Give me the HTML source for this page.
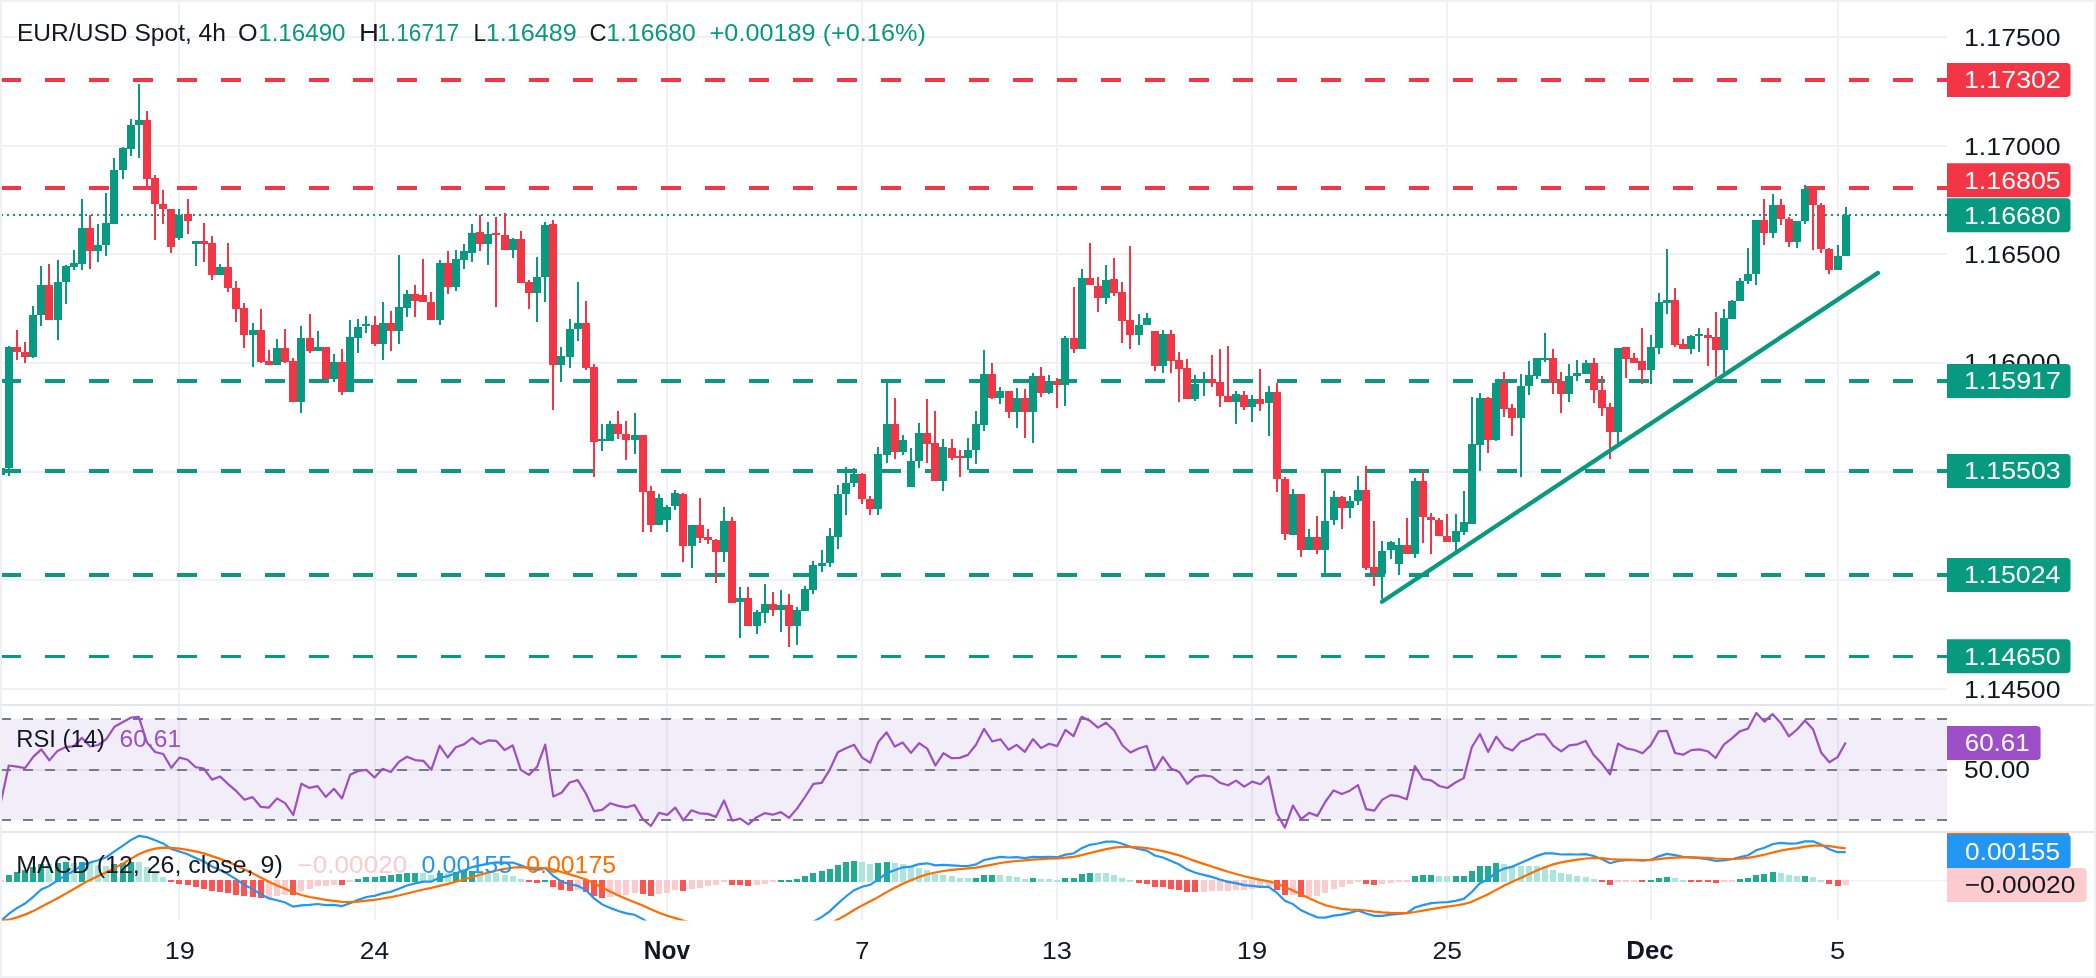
<!DOCTYPE html>
<html><head><meta charset="utf-8"><style>html,body{margin:0;padding:0;background:#fff;}svg{display:block} body>svg{will-change:transform}</style></head>
<body><svg width="2096" height="978" viewBox="0 0 2096 978" shape-rendering="crispEdges">
<rect x="0" y="0" width="2096" height="978" fill="#fff"/>
<rect x="2" y="36.0" width="1945" height="2" fill="#F0F1F2"/>
<rect x="2" y="144.7" width="1945" height="2" fill="#F0F1F2"/>
<rect x="2" y="253.3" width="1945" height="2" fill="#F0F1F2"/>
<rect x="2" y="362.0" width="1945" height="2" fill="#F0F1F2"/>
<rect x="2" y="470.7" width="1945" height="2" fill="#F0F1F2"/>
<rect x="2" y="579.3" width="1945" height="2" fill="#F0F1F2"/>
<rect x="2" y="688.0" width="1945" height="2" fill="#F0F1F2"/>
<rect x="178" y="2" width="2" height="918" fill="#F0F1F2"/>
<rect x="374" y="2" width="2" height="918" fill="#F0F1F2"/>
<rect x="666" y="2" width="2" height="918" fill="#F0F1F2"/>
<rect x="861" y="2" width="2" height="918" fill="#F0F1F2"/>
<rect x="1056" y="2" width="2" height="918" fill="#F0F1F2"/>
<rect x="1251" y="2" width="2" height="918" fill="#F0F1F2"/>
<rect x="1446" y="2" width="2" height="918" fill="#F0F1F2"/>
<rect x="1650" y="2" width="2" height="918" fill="#F0F1F2"/>
<rect x="1837" y="2" width="2" height="918" fill="#F0F1F2"/>
<rect x="0" y="704" width="2096" height="2" fill="#E4E6EB"/>
<rect x="0" y="831" width="2096" height="2" fill="#E4E6EB"/>
<line x1="1" y1="80.03200000000203" x2="1947" y2="80.03200000000203" stroke="#F23645" stroke-width="3.5" stroke-dasharray="20 24"/>
<line x1="1" y1="188.04666666666694" x2="1947" y2="188.04666666666694" stroke="#F23645" stroke-width="3.5" stroke-dasharray="20 24"/>
<line x1="1" y1="381.03866666666687" x2="1947" y2="381.03866666666687" stroke="#089981" stroke-width="3.5" stroke-dasharray="20 24"/>
<line x1="1" y1="471.01466666666767" x2="1947" y2="471.01466666666767" stroke="#089981" stroke-width="3.5" stroke-dasharray="20 24"/>
<line x1="1" y1="575.1173333333358" x2="1947" y2="575.1173333333358" stroke="#089981" stroke-width="3.5" stroke-dasharray="20 24"/>
<line x1="1" y1="656.3999999999993" x2="1947" y2="656.3999999999993" stroke="#089981" stroke-width="3.5" stroke-dasharray="20 24"/>
<line x1="1" y1="215.2" x2="1947" y2="215.2" stroke="#089981" stroke-width="2" stroke-dasharray="2 4"/>
<rect x="0" y="442.0" width="2" height="38.6" fill="#089981"/>
<rect x="-3" y="467.5" width="8" height="7.3" fill="#089981"/>
<rect x="8" y="345.6" width="2" height="130.4" fill="#089981"/>
<rect x="5" y="347.0" width="8" height="121.0" fill="#089981"/>
<rect x="16" y="330.0" width="2" height="30.0" fill="#F23645"/>
<rect x="13" y="347.0" width="8" height="4.5" fill="#F23645"/>
<rect x="24" y="342.0" width="2" height="20.5" fill="#F23645"/>
<rect x="21" y="351.5" width="8" height="5.1" fill="#F23645"/>
<rect x="32" y="306.0" width="2" height="52.0" fill="#089981"/>
<rect x="29" y="315.0" width="8" height="41.6" fill="#089981"/>
<rect x="40" y="266.0" width="2" height="60.0" fill="#089981"/>
<rect x="37" y="285.0" width="8" height="30.0" fill="#089981"/>
<rect x="48" y="264.0" width="2" height="56.0" fill="#F23645"/>
<rect x="45" y="285.0" width="8" height="34.5" fill="#F23645"/>
<rect x="57" y="260.0" width="2" height="80.0" fill="#089981"/>
<rect x="54" y="282.0" width="8" height="37.5" fill="#089981"/>
<rect x="65" y="265.0" width="2" height="38.6" fill="#089981"/>
<rect x="62" y="266.0" width="8" height="16.0" fill="#089981"/>
<rect x="73" y="249.7" width="2" height="19.9" fill="#089981"/>
<rect x="70" y="263.0" width="8" height="3.5" fill="#089981"/>
<rect x="81" y="199.0" width="2" height="70.8" fill="#089981"/>
<rect x="78" y="227.6" width="8" height="36.4" fill="#089981"/>
<rect x="89" y="215.0" width="2" height="53.5" fill="#F23645"/>
<rect x="86" y="227.6" width="8" height="23.2" fill="#F23645"/>
<rect x="97" y="224.0" width="2" height="37.6" fill="#089981"/>
<rect x="94" y="245.0" width="8" height="5.8" fill="#089981"/>
<rect x="105" y="193.0" width="2" height="62.5" fill="#089981"/>
<rect x="102" y="223.0" width="8" height="22.0" fill="#089981"/>
<rect x="113" y="158.0" width="2" height="65.6" fill="#089981"/>
<rect x="110" y="170.0" width="8" height="53.6" fill="#089981"/>
<rect x="122" y="147.0" width="2" height="31.8" fill="#089981"/>
<rect x="119" y="148.0" width="8" height="22.0" fill="#089981"/>
<rect x="130" y="119.0" width="2" height="36.7" fill="#089981"/>
<rect x="127" y="125.0" width="8" height="23.7" fill="#089981"/>
<rect x="138" y="84.0" width="2" height="73.7" fill="#089981"/>
<rect x="135" y="120.3" width="8" height="5.1" fill="#089981"/>
<rect x="146" y="111.0" width="2" height="75.3" fill="#F23645"/>
<rect x="143" y="120.3" width="8" height="58.3" fill="#F23645"/>
<rect x="154" y="175.0" width="2" height="64.5" fill="#F23645"/>
<rect x="151" y="178.0" width="8" height="25.7" fill="#F23645"/>
<rect x="162" y="190.0" width="2" height="33.6" fill="#F23645"/>
<rect x="159" y="203.7" width="8" height="5.3" fill="#F23645"/>
<rect x="170" y="208.8" width="2" height="44.0" fill="#F23645"/>
<rect x="167" y="209.0" width="8" height="38.0" fill="#F23645"/>
<rect x="178" y="208.8" width="2" height="31.2" fill="#089981"/>
<rect x="175" y="214.6" width="8" height="22.9" fill="#089981"/>
<rect x="187" y="198.6" width="2" height="35.8" fill="#F23645"/>
<rect x="184" y="214.0" width="8" height="6.7" fill="#F23645"/>
<rect x="195" y="240.5" width="2" height="25.1" fill="#089981"/>
<rect x="192" y="240.5" width="8" height="3.9" fill="#089981"/>
<rect x="203" y="222.9" width="2" height="38.9" fill="#F23645"/>
<rect x="200" y="240.5" width="8" height="3.4" fill="#F23645"/>
<rect x="211" y="235.7" width="2" height="43.9" fill="#F23645"/>
<rect x="208" y="243.1" width="8" height="31.4" fill="#F23645"/>
<rect x="219" y="263.8" width="2" height="10.7" fill="#089981"/>
<rect x="216" y="266.9" width="8" height="7.6" fill="#089981"/>
<rect x="227" y="242.6" width="2" height="49.0" fill="#F23645"/>
<rect x="224" y="266.9" width="8" height="20.9" fill="#F23645"/>
<rect x="235" y="280.9" width="2" height="40.9" fill="#F23645"/>
<rect x="232" y="287.8" width="8" height="20.7" fill="#F23645"/>
<rect x="243" y="303.1" width="2" height="44.8" fill="#F23645"/>
<rect x="240" y="307.7" width="8" height="27.6" fill="#F23645"/>
<rect x="252" y="323.0" width="2" height="44.3" fill="#089981"/>
<rect x="249" y="330.2" width="8" height="5.1" fill="#089981"/>
<rect x="260" y="309.0" width="2" height="53.7" fill="#F23645"/>
<rect x="257" y="330.2" width="8" height="31.7" fill="#F23645"/>
<rect x="268" y="349.9" width="2" height="14.6" fill="#F23645"/>
<rect x="265" y="361.4" width="8" height="3.1" fill="#F23645"/>
<rect x="276" y="338.9" width="2" height="25.6" fill="#089981"/>
<rect x="273" y="347.9" width="8" height="16.6" fill="#089981"/>
<rect x="284" y="328.7" width="2" height="34.7" fill="#F23645"/>
<rect x="281" y="347.9" width="8" height="14.0" fill="#F23645"/>
<rect x="292" y="358.0" width="2" height="43.5" fill="#F23645"/>
<rect x="289" y="360.9" width="8" height="40.6" fill="#F23645"/>
<rect x="300" y="326.1" width="2" height="86.4" fill="#089981"/>
<rect x="297" y="337.9" width="8" height="63.6" fill="#089981"/>
<rect x="309" y="313.6" width="2" height="38.9" fill="#F23645"/>
<rect x="306" y="337.9" width="8" height="12.8" fill="#F23645"/>
<rect x="317" y="330.7" width="2" height="20.0" fill="#089981"/>
<rect x="314" y="346.8" width="8" height="3.9" fill="#089981"/>
<rect x="325" y="346.8" width="2" height="32.0" fill="#F23645"/>
<rect x="322" y="346.8" width="8" height="32.0" fill="#F23645"/>
<rect x="333" y="353.7" width="2" height="28.7" fill="#089981"/>
<rect x="330" y="361.9" width="8" height="16.9" fill="#089981"/>
<rect x="341" y="348.6" width="2" height="46.0" fill="#F23645"/>
<rect x="338" y="361.9" width="8" height="29.6" fill="#F23645"/>
<rect x="349" y="320.0" width="2" height="71.5" fill="#089981"/>
<rect x="346" y="337.1" width="8" height="54.4" fill="#089981"/>
<rect x="357" y="319.2" width="2" height="33.3" fill="#089981"/>
<rect x="354" y="326.9" width="8" height="11.0" fill="#089981"/>
<rect x="365" y="315.9" width="2" height="16.9" fill="#089981"/>
<rect x="362" y="324.4" width="8" height="2.0" fill="#089981"/>
<rect x="374" y="315.9" width="2" height="30.1" fill="#F23645"/>
<rect x="371" y="325.1" width="8" height="18.4" fill="#F23645"/>
<rect x="382" y="302.1" width="2" height="58.0" fill="#089981"/>
<rect x="379" y="323.1" width="8" height="20.4" fill="#089981"/>
<rect x="390" y="310.8" width="2" height="39.9" fill="#F23645"/>
<rect x="387" y="323.1" width="8" height="7.6" fill="#F23645"/>
<rect x="398" y="255.4" width="2" height="88.1" fill="#089981"/>
<rect x="395" y="307.0" width="8" height="23.7" fill="#089981"/>
<rect x="406" y="290.2" width="2" height="26.3" fill="#089981"/>
<rect x="403" y="294.2" width="8" height="13.3" fill="#089981"/>
<rect x="414" y="285.0" width="2" height="31.5" fill="#F23645"/>
<rect x="411" y="294.2" width="8" height="6.9" fill="#F23645"/>
<rect x="422" y="259.0" width="2" height="43.4" fill="#F23645"/>
<rect x="419" y="294.7" width="8" height="7.7" fill="#F23645"/>
<rect x="430" y="292.2" width="2" height="27.3" fill="#F23645"/>
<rect x="427" y="301.9" width="8" height="17.6" fill="#F23645"/>
<rect x="439" y="260.3" width="2" height="64.3" fill="#089981"/>
<rect x="436" y="262.8" width="8" height="56.7" fill="#089981"/>
<rect x="447" y="251.3" width="2" height="42.2" fill="#F23645"/>
<rect x="444" y="262.8" width="8" height="23.8" fill="#F23645"/>
<rect x="455" y="250.0" width="2" height="41.4" fill="#089981"/>
<rect x="452" y="259.0" width="8" height="27.6" fill="#089981"/>
<rect x="463" y="244.2" width="2" height="24.5" fill="#089981"/>
<rect x="460" y="251.3" width="8" height="9.0" fill="#089981"/>
<rect x="471" y="223.7" width="2" height="37.8" fill="#089981"/>
<rect x="468" y="232.9" width="8" height="19.7" fill="#089981"/>
<rect x="479" y="215.0" width="2" height="36.3" fill="#F23645"/>
<rect x="476" y="232.2" width="8" height="11.5" fill="#F23645"/>
<rect x="487" y="221.9" width="2" height="42.7" fill="#089981"/>
<rect x="484" y="234.0" width="8" height="9.7" fill="#089981"/>
<rect x="495" y="216.8" width="2" height="90.0" fill="#F23645"/>
<rect x="492" y="233.4" width="8" height="2.0" fill="#F23645"/>
<rect x="504" y="213.0" width="2" height="36.5" fill="#F23645"/>
<rect x="501" y="234.7" width="8" height="14.8" fill="#F23645"/>
<rect x="512" y="238.0" width="2" height="19.7" fill="#089981"/>
<rect x="509" y="239.0" width="8" height="10.5" fill="#089981"/>
<rect x="520" y="230.9" width="2" height="51.6" fill="#F23645"/>
<rect x="517" y="239.0" width="8" height="43.5" fill="#F23645"/>
<rect x="528" y="280.0" width="2" height="28.8" fill="#F23645"/>
<rect x="525" y="282.0" width="8" height="10.7" fill="#F23645"/>
<rect x="536" y="257.0" width="2" height="64.6" fill="#089981"/>
<rect x="533" y="276.9" width="8" height="15.8" fill="#089981"/>
<rect x="544" y="222.0" width="2" height="80.4" fill="#089981"/>
<rect x="541" y="225.0" width="8" height="52.4" fill="#089981"/>
<rect x="552" y="220.1" width="2" height="190.1" fill="#F23645"/>
<rect x="549" y="223.7" width="8" height="141.3" fill="#F23645"/>
<rect x="560" y="347.1" width="2" height="35.0" fill="#089981"/>
<rect x="557" y="356.0" width="8" height="9.0" fill="#089981"/>
<rect x="569" y="319.0" width="2" height="49.3" fill="#089981"/>
<rect x="566" y="329.2" width="8" height="27.4" fill="#089981"/>
<rect x="577" y="282.0" width="2" height="58.7" fill="#089981"/>
<rect x="574" y="322.9" width="8" height="6.3" fill="#089981"/>
<rect x="585" y="301.1" width="2" height="69.0" fill="#F23645"/>
<rect x="582" y="322.9" width="8" height="44.7" fill="#F23645"/>
<rect x="593" y="363.8" width="2" height="113.4" fill="#F23645"/>
<rect x="590" y="366.9" width="8" height="75.1" fill="#F23645"/>
<rect x="601" y="423.6" width="2" height="27.0" fill="#089981"/>
<rect x="598" y="438.9" width="8" height="2.0" fill="#089981"/>
<rect x="609" y="421.1" width="2" height="20.3" fill="#089981"/>
<rect x="606" y="423.6" width="8" height="17.8" fill="#089981"/>
<rect x="617" y="410.7" width="2" height="28.2" fill="#F23645"/>
<rect x="614" y="423.6" width="8" height="10.7" fill="#F23645"/>
<rect x="625" y="421.1" width="2" height="38.6" fill="#F23645"/>
<rect x="622" y="434.3" width="8" height="5.2" fill="#F23645"/>
<rect x="634" y="412.8" width="2" height="40.8" fill="#089981"/>
<rect x="631" y="435.2" width="8" height="4.3" fill="#089981"/>
<rect x="642" y="435.2" width="2" height="96.3" fill="#F23645"/>
<rect x="639" y="435.2" width="8" height="56.4" fill="#F23645"/>
<rect x="650" y="486.4" width="2" height="46.0" fill="#F23645"/>
<rect x="647" y="491.0" width="8" height="33.7" fill="#F23645"/>
<rect x="658" y="493.5" width="2" height="31.2" fill="#089981"/>
<rect x="655" y="497.8" width="8" height="26.9" fill="#089981"/>
<rect x="666" y="504.8" width="2" height="27.6" fill="#089981"/>
<rect x="663" y="507.0" width="8" height="13.0" fill="#089981"/>
<rect x="674" y="490.1" width="2" height="19.9" fill="#089981"/>
<rect x="671" y="492.6" width="8" height="13.7" fill="#089981"/>
<rect x="682" y="492.6" width="2" height="68.9" fill="#F23645"/>
<rect x="679" y="494.1" width="8" height="52.1" fill="#F23645"/>
<rect x="691" y="525.4" width="2" height="42.9" fill="#089981"/>
<rect x="688" y="525.4" width="8" height="20.8" fill="#089981"/>
<rect x="699" y="497.8" width="2" height="45.3" fill="#F23645"/>
<rect x="696" y="525.4" width="8" height="12.2" fill="#F23645"/>
<rect x="707" y="529.3" width="2" height="14.4" fill="#F23645"/>
<rect x="704" y="537.0" width="8" height="3.1" fill="#F23645"/>
<rect x="715" y="538.5" width="2" height="44.5" fill="#F23645"/>
<rect x="712" y="540.1" width="8" height="11.6" fill="#F23645"/>
<rect x="723" y="507.0" width="2" height="55.4" fill="#089981"/>
<rect x="720" y="521.0" width="8" height="30.5" fill="#089981"/>
<rect x="731" y="517.0" width="2" height="85.5" fill="#F23645"/>
<rect x="728" y="521.0" width="8" height="81.5" fill="#F23645"/>
<rect x="739" y="587.4" width="2" height="50.2" fill="#089981"/>
<rect x="736" y="598.2" width="8" height="3.4" fill="#089981"/>
<rect x="747" y="587.4" width="2" height="38.2" fill="#F23645"/>
<rect x="744" y="598.2" width="8" height="27.4" fill="#F23645"/>
<rect x="756" y="609.9" width="2" height="23.6" fill="#089981"/>
<rect x="753" y="612.1" width="8" height="13.5" fill="#089981"/>
<rect x="764" y="584.0" width="2" height="39.4" fill="#089981"/>
<rect x="761" y="603.8" width="8" height="8.7" fill="#089981"/>
<rect x="772" y="591.9" width="2" height="23.6" fill="#F23645"/>
<rect x="769" y="603.8" width="8" height="6.1" fill="#F23645"/>
<rect x="780" y="589.6" width="2" height="42.1" fill="#089981"/>
<rect x="777" y="605.4" width="8" height="4.5" fill="#089981"/>
<rect x="788" y="594.1" width="2" height="52.9" fill="#F23645"/>
<rect x="785" y="605.4" width="8" height="20.2" fill="#F23645"/>
<rect x="796" y="607.0" width="2" height="37.8" fill="#089981"/>
<rect x="793" y="609.9" width="8" height="15.7" fill="#089981"/>
<rect x="804" y="586.3" width="2" height="24.3" fill="#089981"/>
<rect x="801" y="589.0" width="8" height="21.6" fill="#089981"/>
<rect x="812" y="561.0" width="2" height="33.1" fill="#089981"/>
<rect x="809" y="564.9" width="8" height="24.7" fill="#089981"/>
<rect x="821" y="550.3" width="2" height="21.3" fill="#089981"/>
<rect x="818" y="562.6" width="8" height="3.0" fill="#089981"/>
<rect x="829" y="528.2" width="2" height="38.9" fill="#089981"/>
<rect x="826" y="536.3" width="8" height="26.3" fill="#089981"/>
<rect x="837" y="484.6" width="2" height="63.9" fill="#089981"/>
<rect x="834" y="494.0" width="8" height="42.8" fill="#089981"/>
<rect x="845" y="466.6" width="2" height="48.1" fill="#089981"/>
<rect x="842" y="483.2" width="8" height="10.8" fill="#089981"/>
<rect x="853" y="468.1" width="2" height="18.7" fill="#089981"/>
<rect x="850" y="474.2" width="8" height="9.0" fill="#089981"/>
<rect x="861" y="473.3" width="2" height="30.2" fill="#F23645"/>
<rect x="858" y="474.2" width="8" height="24.3" fill="#F23645"/>
<rect x="869" y="496.3" width="2" height="19.1" fill="#F23645"/>
<rect x="866" y="498.5" width="8" height="10.1" fill="#F23645"/>
<rect x="877" y="447.2" width="2" height="68.2" fill="#089981"/>
<rect x="874" y="454.0" width="8" height="55.3" fill="#089981"/>
<rect x="886" y="381.5" width="2" height="81.2" fill="#089981"/>
<rect x="883" y="423.8" width="8" height="30.7" fill="#089981"/>
<rect x="894" y="398.3" width="2" height="60.5" fill="#F23645"/>
<rect x="891" y="423.8" width="8" height="28.2" fill="#F23645"/>
<rect x="902" y="435.2" width="2" height="19.3" fill="#089981"/>
<rect x="899" y="440.0" width="8" height="12.0" fill="#089981"/>
<rect x="910" y="448.1" width="2" height="38.7" fill="#089981"/>
<rect x="907" y="461.0" width="8" height="25.8" fill="#089981"/>
<rect x="918" y="422.8" width="2" height="45.1" fill="#089981"/>
<rect x="915" y="433.0" width="8" height="28.4" fill="#089981"/>
<rect x="926" y="399.1" width="2" height="63.6" fill="#F23645"/>
<rect x="923" y="433.0" width="8" height="10.8" fill="#F23645"/>
<rect x="934" y="411.2" width="2" height="69.5" fill="#F23645"/>
<rect x="931" y="442.7" width="8" height="38.0" fill="#F23645"/>
<rect x="942" y="439.1" width="2" height="51.5" fill="#089981"/>
<rect x="939" y="447.0" width="8" height="34.4" fill="#089981"/>
<rect x="951" y="439.1" width="2" height="20.8" fill="#F23645"/>
<rect x="948" y="448.1" width="8" height="10.3" fill="#F23645"/>
<rect x="959" y="450.2" width="2" height="26.9" fill="#F23645"/>
<rect x="956" y="456.3" width="8" height="2.0" fill="#F23645"/>
<rect x="967" y="438.4" width="2" height="31.6" fill="#089981"/>
<rect x="964" y="450.2" width="8" height="8.2" fill="#089981"/>
<rect x="975" y="411.2" width="2" height="52.4" fill="#089981"/>
<rect x="972" y="423.8" width="8" height="26.4" fill="#089981"/>
<rect x="983" y="350.4" width="2" height="80.1" fill="#089981"/>
<rect x="980" y="374.0" width="8" height="50.5" fill="#089981"/>
<rect x="991" y="363.3" width="2" height="35.8" fill="#F23645"/>
<rect x="988" y="374.0" width="8" height="24.3" fill="#F23645"/>
<rect x="999" y="386.9" width="2" height="17.2" fill="#089981"/>
<rect x="996" y="391.2" width="8" height="7.1" fill="#089981"/>
<rect x="1008" y="391.2" width="2" height="26.4" fill="#F23645"/>
<rect x="1005" y="391.2" width="8" height="20.4" fill="#F23645"/>
<rect x="1016" y="388.0" width="2" height="39.7" fill="#089981"/>
<rect x="1013" y="398.3" width="8" height="13.3" fill="#089981"/>
<rect x="1024" y="389.0" width="2" height="48.8" fill="#F23645"/>
<rect x="1021" y="398.3" width="8" height="13.3" fill="#F23645"/>
<rect x="1032" y="372.5" width="2" height="70.2" fill="#089981"/>
<rect x="1029" y="376.2" width="8" height="35.4" fill="#089981"/>
<rect x="1040" y="366.9" width="2" height="29.7" fill="#F23645"/>
<rect x="1037" y="376.2" width="8" height="17.1" fill="#F23645"/>
<rect x="1048" y="375.1" width="2" height="19.3" fill="#089981"/>
<rect x="1045" y="381.1" width="8" height="12.2" fill="#089981"/>
<rect x="1056" y="378.3" width="2" height="29.4" fill="#F23645"/>
<rect x="1053" y="381.1" width="8" height="4.3" fill="#F23645"/>
<rect x="1064" y="336.0" width="2" height="69.6" fill="#089981"/>
<rect x="1061" y="338.2" width="8" height="47.2" fill="#089981"/>
<rect x="1073" y="286.9" width="2" height="65.9" fill="#F23645"/>
<rect x="1070" y="338.4" width="8" height="10.8" fill="#F23645"/>
<rect x="1081" y="269.1" width="2" height="80.1" fill="#089981"/>
<rect x="1078" y="278.3" width="8" height="70.9" fill="#089981"/>
<rect x="1089" y="242.5" width="2" height="42.9" fill="#F23645"/>
<rect x="1086" y="278.3" width="8" height="7.1" fill="#F23645"/>
<rect x="1097" y="277.2" width="2" height="34.4" fill="#F23645"/>
<rect x="1094" y="286.3" width="8" height="11.3" fill="#F23645"/>
<rect x="1105" y="264.8" width="2" height="39.3" fill="#089981"/>
<rect x="1102" y="279.8" width="8" height="17.8" fill="#089981"/>
<rect x="1113" y="257.5" width="2" height="38.5" fill="#F23645"/>
<rect x="1110" y="279.4" width="8" height="13.9" fill="#F23645"/>
<rect x="1121" y="282.0" width="2" height="60.7" fill="#F23645"/>
<rect x="1118" y="292.3" width="8" height="28.3" fill="#F23645"/>
<rect x="1129" y="246.1" width="2" height="102.4" fill="#F23645"/>
<rect x="1126" y="320.2" width="8" height="14.6" fill="#F23645"/>
<rect x="1138" y="314.2" width="2" height="30.7" fill="#089981"/>
<rect x="1135" y="324.5" width="8" height="10.3" fill="#089981"/>
<rect x="1146" y="313.3" width="2" height="11.6" fill="#089981"/>
<rect x="1143" y="318.0" width="8" height="6.9" fill="#089981"/>
<rect x="1154" y="330.5" width="2" height="40.1" fill="#F23645"/>
<rect x="1151" y="330.9" width="8" height="35.5" fill="#F23645"/>
<rect x="1162" y="329.8" width="2" height="43.0" fill="#089981"/>
<rect x="1159" y="334.1" width="8" height="32.3" fill="#089981"/>
<rect x="1170" y="329.8" width="2" height="43.6" fill="#F23645"/>
<rect x="1167" y="334.1" width="8" height="26.5" fill="#F23645"/>
<rect x="1178" y="352.0" width="2" height="49.8" fill="#F23645"/>
<rect x="1175" y="359.9" width="8" height="8.6" fill="#F23645"/>
<rect x="1186" y="358.8" width="2" height="39.8" fill="#F23645"/>
<rect x="1183" y="367.9" width="8" height="30.7" fill="#F23645"/>
<rect x="1194" y="375.0" width="2" height="25.7" fill="#089981"/>
<rect x="1191" y="383.5" width="8" height="15.1" fill="#089981"/>
<rect x="1203" y="372.2" width="2" height="23.6" fill="#089981"/>
<rect x="1200" y="380.3" width="8" height="2.6" fill="#089981"/>
<rect x="1211" y="355.0" width="2" height="31.8" fill="#F23645"/>
<rect x="1208" y="379.2" width="8" height="3.7" fill="#F23645"/>
<rect x="1219" y="349.2" width="2" height="57.3" fill="#F23645"/>
<rect x="1216" y="382.0" width="8" height="14.4" fill="#F23645"/>
<rect x="1227" y="346.0" width="2" height="56.2" fill="#F23645"/>
<rect x="1224" y="396.4" width="8" height="5.8" fill="#F23645"/>
<rect x="1235" y="391.0" width="2" height="33.3" fill="#089981"/>
<rect x="1232" y="394.3" width="8" height="7.9" fill="#089981"/>
<rect x="1243" y="391.0" width="2" height="19.4" fill="#F23645"/>
<rect x="1240" y="394.9" width="8" height="11.6" fill="#F23645"/>
<rect x="1251" y="395.3" width="2" height="26.2" fill="#089981"/>
<rect x="1248" y="398.6" width="8" height="7.9" fill="#089981"/>
<rect x="1259" y="369.1" width="2" height="42.3" fill="#F23645"/>
<rect x="1256" y="398.6" width="8" height="4.9" fill="#F23645"/>
<rect x="1268" y="385.5" width="2" height="50.6" fill="#089981"/>
<rect x="1265" y="391.9" width="8" height="11.5" fill="#089981"/>
<rect x="1276" y="382.5" width="2" height="109.1" fill="#F23645"/>
<rect x="1273" y="391.9" width="8" height="86.9" fill="#F23645"/>
<rect x="1284" y="477.0" width="2" height="63.1" fill="#F23645"/>
<rect x="1281" y="478.8" width="8" height="55.4" fill="#F23645"/>
<rect x="1292" y="489.0" width="2" height="46.0" fill="#089981"/>
<rect x="1289" y="494.1" width="8" height="40.9" fill="#089981"/>
<rect x="1300" y="494.1" width="2" height="63.1" fill="#F23645"/>
<rect x="1297" y="494.1" width="8" height="55.5" fill="#F23645"/>
<rect x="1308" y="529.1" width="2" height="21.2" fill="#089981"/>
<rect x="1305" y="536.8" width="8" height="12.8" fill="#089981"/>
<rect x="1316" y="515.9" width="2" height="38.3" fill="#F23645"/>
<rect x="1313" y="536.8" width="8" height="12.8" fill="#F23645"/>
<rect x="1324" y="472.4" width="2" height="101.7" fill="#089981"/>
<rect x="1321" y="521.0" width="8" height="28.6" fill="#089981"/>
<rect x="1333" y="490.8" width="2" height="34.0" fill="#089981"/>
<rect x="1330" y="496.7" width="8" height="23.7" fill="#089981"/>
<rect x="1341" y="495.9" width="2" height="32.7" fill="#F23645"/>
<rect x="1338" y="496.7" width="8" height="11.0" fill="#F23645"/>
<rect x="1349" y="495.9" width="2" height="22.0" fill="#089981"/>
<rect x="1346" y="501.0" width="8" height="6.7" fill="#089981"/>
<rect x="1357" y="476.2" width="2" height="28.9" fill="#089981"/>
<rect x="1354" y="489.8" width="8" height="11.2" fill="#089981"/>
<rect x="1365" y="466.0" width="2" height="103.5" fill="#F23645"/>
<rect x="1362" y="489.8" width="8" height="77.7" fill="#F23645"/>
<rect x="1373" y="521.0" width="2" height="65.1" fill="#F23645"/>
<rect x="1370" y="567.0" width="8" height="6.3" fill="#F23645"/>
<rect x="1381" y="541.4" width="2" height="57.6" fill="#089981"/>
<rect x="1378" y="551.1" width="8" height="23.0" fill="#089981"/>
<rect x="1390" y="541.4" width="2" height="17.9" fill="#089981"/>
<rect x="1387" y="541.9" width="8" height="8.4" fill="#089981"/>
<rect x="1398" y="538.3" width="2" height="36.8" fill="#089981"/>
<rect x="1395" y="545.2" width="8" height="19.2" fill="#089981"/>
<rect x="1406" y="518.4" width="2" height="35.8" fill="#F23645"/>
<rect x="1403" y="545.2" width="8" height="9.0" fill="#F23645"/>
<rect x="1414" y="478.0" width="2" height="80.0" fill="#089981"/>
<rect x="1411" y="481.4" width="8" height="72.8" fill="#089981"/>
<rect x="1422" y="469.9" width="2" height="72.8" fill="#F23645"/>
<rect x="1419" y="481.4" width="8" height="35.7" fill="#F23645"/>
<rect x="1430" y="512.8" width="2" height="41.4" fill="#F23645"/>
<rect x="1427" y="517.1" width="8" height="3.3" fill="#F23645"/>
<rect x="1438" y="517.9" width="2" height="18.4" fill="#F23645"/>
<rect x="1435" y="519.7" width="8" height="16.6" fill="#F23645"/>
<rect x="1446" y="513.8" width="2" height="28.1" fill="#F23645"/>
<rect x="1443" y="536.3" width="8" height="5.6" fill="#F23645"/>
<rect x="1455" y="514.2" width="2" height="37.0" fill="#089981"/>
<rect x="1452" y="530.8" width="8" height="11.0" fill="#089981"/>
<rect x="1463" y="491.2" width="2" height="43.4" fill="#089981"/>
<rect x="1460" y="521.8" width="8" height="10.3" fill="#089981"/>
<rect x="1471" y="396.6" width="2" height="127.8" fill="#089981"/>
<rect x="1468" y="443.9" width="8" height="80.5" fill="#089981"/>
<rect x="1479" y="392.8" width="2" height="77.9" fill="#089981"/>
<rect x="1476" y="397.9" width="8" height="46.8" fill="#089981"/>
<rect x="1487" y="396.6" width="2" height="56.8" fill="#F23645"/>
<rect x="1484" y="397.9" width="8" height="41.7" fill="#F23645"/>
<rect x="1495" y="379.3" width="2" height="62.1" fill="#089981"/>
<rect x="1492" y="382.6" width="8" height="57.0" fill="#089981"/>
<rect x="1503" y="372.4" width="2" height="44.2" fill="#F23645"/>
<rect x="1500" y="382.6" width="8" height="26.8" fill="#F23645"/>
<rect x="1511" y="404.3" width="2" height="32.0" fill="#F23645"/>
<rect x="1508" y="408.1" width="8" height="10.3" fill="#F23645"/>
<rect x="1520" y="374.2" width="2" height="102.9" fill="#089981"/>
<rect x="1517" y="386.4" width="8" height="32.0" fill="#089981"/>
<rect x="1528" y="360.9" width="2" height="33.7" fill="#089981"/>
<rect x="1525" y="374.9" width="8" height="11.5" fill="#089981"/>
<rect x="1536" y="358.3" width="2" height="21.0" fill="#089981"/>
<rect x="1533" y="358.3" width="8" height="17.9" fill="#089981"/>
<rect x="1544" y="332.8" width="2" height="29.4" fill="#089981"/>
<rect x="1541" y="357.8" width="8" height="2.0" fill="#089981"/>
<rect x="1552" y="349.4" width="2" height="44.2" fill="#F23645"/>
<rect x="1549" y="358.3" width="8" height="23.5" fill="#F23645"/>
<rect x="1560" y="372.4" width="2" height="40.9" fill="#F23645"/>
<rect x="1557" y="381.3" width="8" height="12.8" fill="#F23645"/>
<rect x="1568" y="364.0" width="2" height="37.8" fill="#089981"/>
<rect x="1565" y="376.2" width="8" height="17.9" fill="#089981"/>
<rect x="1576" y="359.6" width="2" height="21.7" fill="#089981"/>
<rect x="1573" y="373.1" width="8" height="3.1" fill="#089981"/>
<rect x="1585" y="359.6" width="2" height="14.1" fill="#089981"/>
<rect x="1582" y="363.4" width="8" height="10.3" fill="#089981"/>
<rect x="1593" y="358.3" width="2" height="44.7" fill="#F23645"/>
<rect x="1590" y="363.4" width="8" height="26.9" fill="#F23645"/>
<rect x="1601" y="376.2" width="2" height="39.6" fill="#F23645"/>
<rect x="1598" y="390.3" width="8" height="17.8" fill="#F23645"/>
<rect x="1609" y="403.0" width="2" height="56.2" fill="#F23645"/>
<rect x="1606" y="407.4" width="8" height="25.0" fill="#F23645"/>
<rect x="1617" y="348.1" width="2" height="95.8" fill="#089981"/>
<rect x="1614" y="348.1" width="8" height="84.3" fill="#089981"/>
<rect x="1625" y="347.4" width="2" height="30.4" fill="#F23645"/>
<rect x="1622" y="347.4" width="8" height="11.3" fill="#F23645"/>
<rect x="1633" y="353.1" width="2" height="9.4" fill="#F23645"/>
<rect x="1630" y="358.3" width="8" height="4.2" fill="#F23645"/>
<rect x="1641" y="328.3" width="2" height="56.1" fill="#F23645"/>
<rect x="1638" y="361.3" width="8" height="8.2" fill="#F23645"/>
<rect x="1650" y="335.2" width="2" height="48.7" fill="#089981"/>
<rect x="1647" y="347.4" width="8" height="22.1" fill="#089981"/>
<rect x="1658" y="293.0" width="2" height="60.8" fill="#089981"/>
<rect x="1655" y="302.2" width="8" height="45.7" fill="#089981"/>
<rect x="1666" y="249.1" width="2" height="64.4" fill="#089981"/>
<rect x="1663" y="300.4" width="8" height="2.3" fill="#089981"/>
<rect x="1674" y="288.3" width="2" height="58.6" fill="#F23645"/>
<rect x="1671" y="300.4" width="8" height="44.4" fill="#F23645"/>
<rect x="1682" y="339.2" width="2" height="9.4" fill="#F23645"/>
<rect x="1679" y="343.9" width="8" height="4.7" fill="#F23645"/>
<rect x="1690" y="335.2" width="2" height="18.6" fill="#089981"/>
<rect x="1687" y="336.1" width="8" height="12.5" fill="#089981"/>
<rect x="1698" y="328.3" width="2" height="23.4" fill="#089981"/>
<rect x="1695" y="334.3" width="8" height="2.0" fill="#089981"/>
<rect x="1707" y="328.3" width="2" height="37.4" fill="#F23645"/>
<rect x="1704" y="335.2" width="8" height="2.3" fill="#F23645"/>
<rect x="1715" y="312.1" width="2" height="64.9" fill="#F23645"/>
<rect x="1712" y="337.0" width="8" height="12.7" fill="#F23645"/>
<rect x="1723" y="309.1" width="2" height="65.2" fill="#089981"/>
<rect x="1720" y="318.3" width="8" height="31.4" fill="#089981"/>
<rect x="1731" y="299.9" width="2" height="19.1" fill="#089981"/>
<rect x="1728" y="301.3" width="8" height="17.7" fill="#089981"/>
<rect x="1739" y="277.8" width="2" height="23.5" fill="#089981"/>
<rect x="1736" y="281.3" width="8" height="20.0" fill="#089981"/>
<rect x="1747" y="247.7" width="2" height="35.9" fill="#089981"/>
<rect x="1744" y="273.5" width="8" height="7.8" fill="#089981"/>
<rect x="1755" y="219.8" width="2" height="64.7" fill="#089981"/>
<rect x="1752" y="219.8" width="8" height="53.7" fill="#089981"/>
<rect x="1763" y="199.4" width="2" height="45.2" fill="#F23645"/>
<rect x="1760" y="219.8" width="8" height="13.6" fill="#F23645"/>
<rect x="1772" y="194.3" width="2" height="43.4" fill="#089981"/>
<rect x="1769" y="205.3" width="8" height="28.1" fill="#089981"/>
<rect x="1780" y="199.4" width="2" height="25.6" fill="#F23645"/>
<rect x="1777" y="205.3" width="8" height="13.8" fill="#F23645"/>
<rect x="1788" y="217.3" width="2" height="29.4" fill="#F23645"/>
<rect x="1785" y="219.1" width="8" height="22.5" fill="#F23645"/>
<rect x="1796" y="221.1" width="2" height="26.9" fill="#089981"/>
<rect x="1793" y="221.1" width="8" height="20.5" fill="#089981"/>
<rect x="1804" y="185.3" width="2" height="39.1" fill="#089981"/>
<rect x="1801" y="189.2" width="8" height="31.9" fill="#089981"/>
<rect x="1812" y="189.2" width="2" height="60.6" fill="#F23645"/>
<rect x="1809" y="189.2" width="8" height="15.3" fill="#F23645"/>
<rect x="1820" y="203.2" width="2" height="49.9" fill="#F23645"/>
<rect x="1817" y="204.5" width="8" height="44.2" fill="#F23645"/>
<rect x="1828" y="248.0" width="2" height="25.5" fill="#F23645"/>
<rect x="1825" y="248.7" width="8" height="21.0" fill="#F23645"/>
<rect x="1837" y="245.4" width="2" height="24.3" fill="#089981"/>
<rect x="1834" y="256.4" width="8" height="13.3" fill="#089981"/>
<rect x="1845" y="207.1" width="2" height="49.3" fill="#089981"/>
<rect x="1842" y="214.7" width="8" height="41.7" fill="#089981"/>
<line x1="1382" y1="601.7" x2="1878" y2="272.9" stroke="#089981" stroke-width="4.3" stroke-linecap="round" shape-rendering="geometricPrecision"/>
<rect x="2" y="719" width="1945" height="101" fill="#7E57C2" fill-opacity="0.1"/>
<rect x="2" y="769" width="1945" height="2" fill="#E4E1EC"/>
<line x1="1.2" y1="718.9" x2="1947" y2="718.9" stroke="#787B86" stroke-width="2" stroke-dasharray="9.7 12.3"/>
<line x1="1.2" y1="770.0" x2="1947" y2="770.0" stroke="#787B86" stroke-width="2" stroke-dasharray="9.7 12.3"/>
<line x1="1.2" y1="819.9" x2="1947" y2="819.9" stroke="#787B86" stroke-width="2" stroke-dasharray="9.7 12.3"/>
<svg x="2" y="706" width="1945" height="125" overflow="hidden"><polyline transform="translate(-2,-706)" points="0.6,803.2 8.8,765.5 16.9,766.7 25.0,768.2 33.2,756.9 41.3,749.4 49.4,760.4 57.5,750.9 65.7,747.1 73.8,746.3 81.9,737.7 90.1,746.5 98.2,745.0 106.3,739.2 114.4,726.8 122.6,722.3 130.7,717.7 138.8,716.8 146.9,742.4 155.1,752.0 163.2,754.0 171.3,767.8 179.5,757.6 187.6,759.8 195.7,767.2 203.8,768.5 212.0,779.6 220.1,776.5 228.2,784.1 236.4,791.2 244.5,799.7 252.6,797.1 260.7,806.8 268.9,807.6 277.0,798.4 285.1,803.1 293.3,815.0 301.4,783.7 309.5,787.9 317.6,786.2 325.8,796.9 333.9,788.8 342.0,798.5 350.1,774.8 358.3,770.9 366.4,769.9 374.5,777.5 382.7,768.8 390.8,772.0 398.9,761.9 407.0,756.7 415.2,760.1 423.3,760.8 431.4,769.7 439.6,745.6 447.7,757.5 455.8,747.2 463.9,744.4 472.1,738.0 480.2,744.1 488.3,740.4 496.4,740.9 504.6,750.1 512.7,745.4 520.8,769.9 529.0,774.9 537.1,766.8 545.2,744.6 553.3,796.4 561.5,792.8 569.6,782.5 577.7,780.1 585.9,793.5 594.0,811.1 602.1,809.8 610.2,803.3 618.4,805.9 626.5,807.3 634.6,805.1 642.8,819.2 650.9,826.0 659.0,812.8 667.1,814.9 675.3,807.7 683.4,820.4 691.5,810.3 699.6,813.3 707.8,813.9 715.9,816.9 724.0,800.5 732.2,820.7 740.3,818.6 748.4,824.4 756.5,817.4 764.7,813.1 772.8,814.7 780.9,812.1 789.1,817.8 797.2,808.4 805.3,796.5 813.4,783.9 821.6,782.8 829.7,769.8 837.8,752.2 845.9,748.2 854.1,744.8 862.2,757.6 870.3,762.7 878.5,741.7 886.6,732.3 894.7,746.5 902.8,742.6 911.0,752.9 919.1,743.2 927.2,748.6 935.4,765.5 943.5,753.1 951.6,758.2 959.7,757.9 967.9,754.9 976.0,744.7 984.1,728.8 992.3,741.5 1000.4,739.2 1008.5,749.7 1016.6,744.9 1024.8,751.9 1032.9,739.1 1041.0,748.1 1049.1,743.7 1057.3,746.1 1065.4,729.9 1073.5,736.2 1081.7,716.8 1089.8,720.7 1097.9,727.6 1106.0,722.7 1114.2,730.5 1122.3,745.3 1130.4,752.5 1138.6,748.5 1146.7,746.0 1154.8,770.1 1162.9,756.9 1171.1,768.5 1179.2,771.9 1187.3,783.9 1195.4,776.9 1203.6,775.4 1211.7,776.5 1219.8,782.7 1228.0,785.3 1236.1,780.6 1244.2,786.6 1252.3,781.6 1260.5,784.2 1268.6,776.4 1276.7,813.2 1284.9,827.6 1293.0,805.5 1301.1,819.1 1309.2,812.8 1317.4,815.9 1325.5,801.5 1333.6,790.4 1341.8,793.9 1349.9,790.7 1358.0,785.2 1366.1,809.1 1374.3,810.6 1382.4,799.6 1390.5,795.1 1398.6,796.2 1406.8,799.3 1414.9,766.0 1423.0,779.1 1431.2,780.3 1439.3,786.0 1447.4,788.0 1455.5,782.5 1463.7,778.1 1471.8,747.3 1479.9,734.0 1488.1,751.9 1496.2,736.7 1504.3,747.2 1512.4,750.6 1520.6,741.8 1528.7,738.8 1536.8,734.4 1544.9,734.3 1553.1,745.7 1561.2,751.4 1569.3,745.4 1577.5,744.3 1585.6,740.9 1593.7,755.0 1601.8,763.6 1610.0,774.4 1618.1,743.6 1626.2,748.3 1634.4,750.0 1642.5,753.3 1650.6,745.4 1658.7,731.4 1666.9,730.9 1675.0,753.0 1683.1,754.7 1691.3,750.1 1699.4,749.4 1707.5,751.2 1715.6,758.0 1723.8,744.7 1731.9,738.3 1740.0,731.2 1748.1,728.6 1756.3,712.9 1764.4,721.6 1772.5,714.1 1780.7,722.9 1788.8,736.3 1796.9,729.7 1805.0,720.5 1813.2,729.6 1821.3,752.8 1829.4,762.3 1837.6,757.1 1845.7,742.5" fill="none" stroke="#9C4FC6" stroke-width="2.2" stroke-linejoin="round" shape-rendering="geometricPrecision"/></svg>
<svg x="2" y="833" width="1945" height="87.5" overflow="hidden"><g transform="translate(-2,-833)"><rect x="2" y="880.3" width="1945" height="1" fill="#F0F1F2"/><rect x="-2" y="880.0" width="6" height="2.0" fill="#FCCBCD"/><rect x="6" y="875.0" width="6" height="7.0" fill="#22AB94"/><rect x="14" y="871.5" width="6" height="10.5" fill="#22AB94"/><rect x="22" y="869.7" width="6" height="12.3" fill="#22AB94"/><rect x="30" y="866.7" width="6" height="15.3" fill="#22AB94"/><rect x="38" y="863.5" width="6" height="18.5" fill="#22AB94"/><rect x="46" y="864.1" width="6" height="17.9" fill="#ACE5DC"/><rect x="55" y="863.2" width="6" height="18.8" fill="#22AB94"/><rect x="63" y="862.4" width="6" height="19.6" fill="#22AB94"/><rect x="71" y="862.6" width="6" height="19.4" fill="#ACE5DC"/><rect x="79" y="861.7" width="6" height="20.3" fill="#22AB94"/><rect x="87" y="863.4" width="6" height="18.6" fill="#ACE5DC"/><rect x="95" y="865.0" width="6" height="17.0" fill="#ACE5DC"/><rect x="103" y="865.7" width="6" height="16.3" fill="#ACE5DC"/><rect x="111" y="864.2" width="6" height="17.8" fill="#22AB94"/><rect x="120" y="863.0" width="6" height="19.0" fill="#22AB94"/><rect x="128" y="862.0" width="6" height="20.0" fill="#22AB94"/><rect x="136" y="862.4" width="6" height="19.6" fill="#ACE5DC"/><rect x="144" y="867.0" width="6" height="15.0" fill="#ACE5DC"/><rect x="152" y="872.3" width="6" height="9.7" fill="#ACE5DC"/><rect x="160" y="876.6" width="6" height="5.4" fill="#ACE5DC"/><rect x="168" y="880.0" width="6" height="2.0" fill="#FF5252"/><rect x="176" y="880.0" width="6" height="3.7" fill="#FF5252"/><rect x="185" y="880.0" width="6" height="5.3" fill="#FF5252"/><rect x="193" y="880.0" width="6" height="7.4" fill="#FF5252"/><rect x="201" y="880.0" width="6" height="8.9" fill="#FF5252"/><rect x="209" y="880.0" width="6" height="11.3" fill="#FF5252"/><rect x="217" y="880.0" width="6" height="12.0" fill="#FF5252"/><rect x="225" y="880.0" width="6" height="13.3" fill="#FF5252"/><rect x="233" y="880.0" width="6" height="14.7" fill="#FF5252"/><rect x="241" y="880.0" width="6" height="16.4" fill="#FF5252"/><rect x="250" y="880.0" width="6" height="16.6" fill="#FF5252"/><rect x="258" y="880.0" width="6" height="17.6" fill="#FF5252"/><rect x="266" y="880.0" width="6" height="17.5" fill="#FCCBCD"/><rect x="274" y="880.0" width="6" height="15.7" fill="#FCCBCD"/><rect x="282" y="880.0" width="6" height="14.5" fill="#FCCBCD"/><rect x="290" y="880.0" width="6" height="15.1" fill="#FF5252"/><rect x="298" y="880.0" width="6" height="11.2" fill="#FCCBCD"/><rect x="307" y="880.0" width="6" height="8.7" fill="#FCCBCD"/><rect x="315" y="880.0" width="6" height="6.4" fill="#FCCBCD"/><rect x="323" y="880.0" width="6" height="6.3" fill="#FCCBCD"/><rect x="331" y="880.0" width="6" height="4.8" fill="#FCCBCD"/><rect x="339" y="880.0" width="6" height="5.1" fill="#FF5252"/><rect x="347" y="880.0" width="6" height="2.0" fill="#FCCBCD"/><rect x="355" y="879.1" width="6" height="2.9" fill="#22AB94"/><rect x="363" y="877.1" width="6" height="4.9" fill="#22AB94"/><rect x="372" y="876.9" width="6" height="5.1" fill="#22AB94"/><rect x="380" y="875.7" width="6" height="6.3" fill="#22AB94"/><rect x="388" y="875.4" width="6" height="6.6" fill="#22AB94"/><rect x="396" y="874.1" width="6" height="7.9" fill="#22AB94"/><rect x="404" y="872.8" width="6" height="9.2" fill="#22AB94"/><rect x="412" y="872.7" width="6" height="9.3" fill="#22AB94"/><rect x="420" y="873.0" width="6" height="9.0" fill="#ACE5DC"/><rect x="428" y="874.5" width="6" height="7.5" fill="#ACE5DC"/><rect x="437" y="872.6" width="6" height="9.4" fill="#22AB94"/><rect x="445" y="873.0" width="6" height="9.0" fill="#ACE5DC"/><rect x="453" y="872.2" width="6" height="9.8" fill="#22AB94"/><rect x="461" y="871.7" width="6" height="10.3" fill="#22AB94"/><rect x="469" y="870.9" width="6" height="11.1" fill="#22AB94"/><rect x="477" y="871.5" width="6" height="10.5" fill="#ACE5DC"/><rect x="485" y="871.9" width="6" height="10.1" fill="#ACE5DC"/><rect x="493" y="872.8" width="6" height="9.2" fill="#ACE5DC"/><rect x="502" y="874.6" width="6" height="7.4" fill="#ACE5DC"/><rect x="510" y="875.6" width="6" height="6.4" fill="#ACE5DC"/><rect x="518" y="879.0" width="6" height="3.0" fill="#ACE5DC"/><rect x="526" y="880.0" width="6" height="2.0" fill="#FF5252"/><rect x="534" y="880.0" width="6" height="2.9" fill="#FF5252"/><rect x="542" y="880.0" width="6" height="2.0" fill="#22AB94"/><rect x="550" y="880.0" width="6" height="7.1" fill="#FF5252"/><rect x="558" y="880.0" width="6" height="10.4" fill="#FF5252"/><rect x="567" y="880.0" width="6" height="10.6" fill="#FF5252"/><rect x="575" y="880.0" width="6" height="9.9" fill="#FCCBCD"/><rect x="583" y="880.0" width="6" height="11.5" fill="#FF5252"/><rect x="591" y="880.0" width="6" height="16.0" fill="#FF5252"/><rect x="599" y="880.0" width="6" height="17.8" fill="#FF5252"/><rect x="607" y="880.0" width="6" height="17.1" fill="#FCCBCD"/><rect x="615" y="880.0" width="6" height="16.4" fill="#FCCBCD"/><rect x="623" y="880.0" width="6" height="15.2" fill="#FCCBCD"/><rect x="632" y="880.0" width="6" height="13.3" fill="#FCCBCD"/><rect x="640" y="880.0" width="6" height="14.4" fill="#FF5252"/><rect x="648" y="880.0" width="6" height="15.9" fill="#FF5252"/><rect x="656" y="880.0" width="6" height="14.4" fill="#FCCBCD"/><rect x="664" y="880.0" width="6" height="12.9" fill="#FCCBCD"/><rect x="672" y="880.0" width="6" height="10.2" fill="#FCCBCD"/><rect x="680" y="880.0" width="6" height="10.6" fill="#FF5252"/><rect x="689" y="880.0" width="6" height="8.9" fill="#FCCBCD"/><rect x="697" y="880.0" width="6" height="7.6" fill="#FCCBCD"/><rect x="705" y="880.0" width="6" height="6.3" fill="#FCCBCD"/><rect x="713" y="880.0" width="6" height="5.3" fill="#FCCBCD"/><rect x="721" y="880.0" width="6" height="2.4" fill="#FCCBCD"/><rect x="729" y="880.0" width="6" height="4.5" fill="#FF5252"/><rect x="737" y="880.0" width="6" height="5.0" fill="#FF5252"/><rect x="745" y="880.0" width="6" height="6.1" fill="#FF5252"/><rect x="754" y="880.0" width="6" height="5.3" fill="#FCCBCD"/><rect x="762" y="880.0" width="6" height="3.7" fill="#FCCBCD"/><rect x="770" y="880.0" width="6" height="2.4" fill="#FCCBCD"/><rect x="778" y="880.0" width="6" height="2.0" fill="#22AB94"/><rect x="786" y="880.0" width="6" height="2.0" fill="#22AB94"/><rect x="794" y="878.8" width="6" height="3.2" fill="#22AB94"/><rect x="802" y="876.4" width="6" height="5.6" fill="#22AB94"/><rect x="810" y="873.3" width="6" height="8.7" fill="#22AB94"/><rect x="819" y="871.2" width="6" height="10.8" fill="#22AB94"/><rect x="827" y="868.5" width="6" height="13.5" fill="#22AB94"/><rect x="835" y="864.8" width="6" height="17.2" fill="#22AB94"/><rect x="843" y="862.3" width="6" height="19.7" fill="#22AB94"/><rect x="851" y="861.0" width="6" height="21.0" fill="#22AB94"/><rect x="859" y="862.2" width="6" height="19.8" fill="#ACE5DC"/><rect x="867" y="864.3" width="6" height="17.7" fill="#ACE5DC"/><rect x="875" y="863.3" width="6" height="18.7" fill="#22AB94"/><rect x="884" y="861.8" width="6" height="20.2" fill="#22AB94"/><rect x="892" y="863.3" width="6" height="18.7" fill="#ACE5DC"/><rect x="900" y="864.4" width="6" height="17.6" fill="#ACE5DC"/><rect x="908" y="867.1" width="6" height="14.9" fill="#ACE5DC"/><rect x="916" y="868.0" width="6" height="14.0" fill="#ACE5DC"/><rect x="924" y="869.8" width="6" height="12.2" fill="#ACE5DC"/><rect x="932" y="873.6" width="6" height="8.4" fill="#ACE5DC"/><rect x="940" y="874.6" width="6" height="7.4" fill="#ACE5DC"/><rect x="949" y="876.3" width="6" height="5.7" fill="#ACE5DC"/><rect x="957" y="877.6" width="6" height="4.4" fill="#ACE5DC"/><rect x="965" y="878.3" width="6" height="3.7" fill="#ACE5DC"/><rect x="973" y="877.6" width="6" height="4.4" fill="#22AB94"/><rect x="981" y="874.7" width="6" height="7.3" fill="#22AB94"/><rect x="989" y="874.6" width="6" height="7.4" fill="#22AB94"/><rect x="997" y="874.7" width="6" height="7.3" fill="#ACE5DC"/><rect x="1006" y="876.3" width="6" height="5.7" fill="#ACE5DC"/><rect x="1014" y="877.0" width="6" height="5.0" fill="#ACE5DC"/><rect x="1022" y="878.6" width="6" height="3.4" fill="#ACE5DC"/><rect x="1030" y="877.9" width="6" height="4.1" fill="#22AB94"/><rect x="1038" y="878.8" width="6" height="3.2" fill="#ACE5DC"/><rect x="1046" y="879.0" width="6" height="3.0" fill="#ACE5DC"/><rect x="1054" y="879.6" width="6" height="2.4" fill="#ACE5DC"/><rect x="1062" y="877.7" width="6" height="4.3" fill="#22AB94"/><rect x="1071" y="877.5" width="6" height="4.5" fill="#22AB94"/><rect x="1079" y="873.9" width="6" height="8.1" fill="#22AB94"/><rect x="1087" y="872.6" width="6" height="9.4" fill="#22AB94"/><rect x="1095" y="873.1" width="6" height="8.9" fill="#ACE5DC"/><rect x="1103" y="873.2" width="6" height="8.8" fill="#ACE5DC"/><rect x="1111" y="874.6" width="6" height="7.4" fill="#ACE5DC"/><rect x="1119" y="877.7" width="6" height="4.3" fill="#ACE5DC"/><rect x="1127" y="880.0" width="6" height="2.0" fill="#ACE5DC"/><rect x="1136" y="880.0" width="6" height="2.5" fill="#FF5252"/><rect x="1144" y="880.0" width="6" height="3.5" fill="#FF5252"/><rect x="1152" y="880.0" width="6" height="6.8" fill="#FF5252"/><rect x="1160" y="880.0" width="6" height="7.2" fill="#FF5252"/><rect x="1168" y="880.0" width="6" height="8.8" fill="#FF5252"/><rect x="1176" y="880.0" width="6" height="10.0" fill="#FF5252"/><rect x="1184" y="880.0" width="6" height="12.2" fill="#FF5252"/><rect x="1192" y="880.0" width="6" height="12.4" fill="#FF5252"/><rect x="1201" y="880.0" width="6" height="11.8" fill="#FCCBCD"/><rect x="1209" y="880.0" width="6" height="11.2" fill="#FCCBCD"/><rect x="1217" y="880.0" width="6" height="11.2" fill="#FCCBCD"/><rect x="1225" y="880.0" width="6" height="11.0" fill="#FCCBCD"/><rect x="1233" y="880.0" width="6" height="10.1" fill="#FCCBCD"/><rect x="1241" y="880.0" width="6" height="9.7" fill="#FCCBCD"/><rect x="1249" y="880.0" width="6" height="8.6" fill="#FCCBCD"/><rect x="1257" y="880.0" width="6" height="7.8" fill="#FCCBCD"/><rect x="1266" y="880.0" width="6" height="6.3" fill="#FCCBCD"/><rect x="1274" y="880.0" width="6" height="9.8" fill="#FF5252"/><rect x="1282" y="880.0" width="6" height="14.5" fill="#FF5252"/><rect x="1290" y="880.0" width="6" height="14.5" fill="#FCCBCD"/><rect x="1298" y="880.0" width="6" height="16.8" fill="#FF5252"/><rect x="1306" y="880.0" width="6" height="16.5" fill="#FCCBCD"/><rect x="1314" y="880.0" width="6" height="16.0" fill="#FCCBCD"/><rect x="1322" y="880.0" width="6" height="13.2" fill="#FCCBCD"/><rect x="1331" y="880.0" width="6" height="9.2" fill="#FCCBCD"/><rect x="1339" y="880.0" width="6" height="6.7" fill="#FCCBCD"/><rect x="1347" y="880.0" width="6" height="4.1" fill="#FCCBCD"/><rect x="1355" y="880.0" width="6" height="2.0" fill="#FCCBCD"/><rect x="1363" y="880.0" width="6" height="3.8" fill="#FF5252"/><rect x="1371" y="880.0" width="6" height="5.1" fill="#FF5252"/><rect x="1379" y="880.0" width="6" height="4.2" fill="#FCCBCD"/><rect x="1388" y="880.0" width="6" height="2.7" fill="#FCCBCD"/><rect x="1396" y="880.0" width="6" height="2.0" fill="#FCCBCD"/><rect x="1404" y="880.0" width="6" height="2.0" fill="#FCCBCD"/><rect x="1412" y="876.3" width="6" height="5.7" fill="#22AB94"/><rect x="1420" y="875.3" width="6" height="6.7" fill="#22AB94"/><rect x="1428" y="874.9" width="6" height="7.1" fill="#22AB94"/><rect x="1436" y="875.5" width="6" height="6.5" fill="#ACE5DC"/><rect x="1444" y="876.3" width="6" height="5.7" fill="#ACE5DC"/><rect x="1453" y="876.1" width="6" height="5.9" fill="#22AB94"/><rect x="1461" y="875.6" width="6" height="6.4" fill="#22AB94"/><rect x="1469" y="871.0" width="6" height="11.0" fill="#22AB94"/><rect x="1477" y="866.0" width="6" height="16.0" fill="#22AB94"/><rect x="1485" y="865.7" width="6" height="16.3" fill="#22AB94"/><rect x="1493" y="863.1" width="6" height="18.9" fill="#22AB94"/><rect x="1501" y="863.8" width="6" height="18.2" fill="#ACE5DC"/><rect x="1509" y="865.6" width="6" height="16.4" fill="#ACE5DC"/><rect x="1518" y="865.7" width="6" height="16.3" fill="#ACE5DC"/><rect x="1526" y="866.0" width="6" height="16.0" fill="#ACE5DC"/><rect x="1534" y="866.1" width="6" height="15.9" fill="#ACE5DC"/><rect x="1542" y="867.0" width="6" height="15.0" fill="#ACE5DC"/><rect x="1550" y="869.7" width="6" height="12.3" fill="#ACE5DC"/><rect x="1558" y="872.8" width="6" height="9.2" fill="#ACE5DC"/><rect x="1566" y="874.4" width="6" height="7.6" fill="#ACE5DC"/><rect x="1574" y="875.7" width="6" height="6.3" fill="#ACE5DC"/><rect x="1583" y="876.5" width="6" height="5.5" fill="#ACE5DC"/><rect x="1591" y="878.8" width="6" height="3.2" fill="#ACE5DC"/><rect x="1599" y="880.0" width="6" height="2.0" fill="#FF5252"/><rect x="1607" y="880.0" width="6" height="4.8" fill="#FF5252"/><rect x="1615" y="880.0" width="6" height="2.3" fill="#FCCBCD"/><rect x="1623" y="880.0" width="6" height="2.0" fill="#FCCBCD"/><rect x="1631" y="880.0" width="6" height="2.0" fill="#FCCBCD"/><rect x="1639" y="880.0" width="6" height="2.0" fill="#FF5252"/><rect x="1648" y="880.0" width="6" height="2.0" fill="#22AB94"/><rect x="1656" y="878.0" width="6" height="4.0" fill="#22AB94"/><rect x="1664" y="876.5" width="6" height="5.5" fill="#22AB94"/><rect x="1672" y="878.4" width="6" height="3.6" fill="#ACE5DC"/><rect x="1680" y="880.0" width="6" height="2.0" fill="#ACE5DC"/><rect x="1688" y="880.0" width="6" height="2.0" fill="#FF5252"/><rect x="1696" y="880.0" width="6" height="2.0" fill="#FF5252"/><rect x="1705" y="880.0" width="6" height="2.0" fill="#FF5252"/><rect x="1713" y="880.0" width="6" height="3.3" fill="#FF5252"/><rect x="1721" y="880.0" width="6" height="2.4" fill="#FCCBCD"/><rect x="1729" y="880.0" width="6" height="2.0" fill="#FCCBCD"/><rect x="1737" y="879.3" width="6" height="2.7" fill="#22AB94"/><rect x="1745" y="878.1" width="6" height="3.9" fill="#22AB94"/><rect x="1753" y="874.7" width="6" height="7.3" fill="#22AB94"/><rect x="1761" y="873.9" width="6" height="8.1" fill="#22AB94"/><rect x="1770" y="872.4" width="6" height="9.6" fill="#22AB94"/><rect x="1778" y="873.0" width="6" height="9.0" fill="#ACE5DC"/><rect x="1786" y="875.2" width="6" height="6.8" fill="#ACE5DC"/><rect x="1794" y="876.1" width="6" height="5.9" fill="#ACE5DC"/><rect x="1802" y="875.5" width="6" height="6.5" fill="#22AB94"/><rect x="1810" y="876.5" width="6" height="5.5" fill="#ACE5DC"/><rect x="1818" y="880.0" width="6" height="2.0" fill="#ACE5DC"/><rect x="1826" y="880.0" width="6" height="3.8" fill="#FF5252"/><rect x="1835" y="880.0" width="6" height="5.6" fill="#FF5252"/><rect x="1843" y="880.0" width="6" height="4.5" fill="#FCCBCD"/><polyline points="0.6,921.2 8.8,913.9 16.9,908.1 25.0,903.5 33.2,896.9 41.3,889.5 49.4,885.9 57.5,880.5 65.7,875.2 73.8,870.9 81.9,865.2 90.1,862.5 98.2,860.2 106.3,857.2 114.4,851.4 122.6,845.8 130.7,840.1 138.8,835.9 146.9,837.1 155.1,840.2 163.2,843.4 171.3,849.0 179.5,851.5 187.6,854.3 195.7,858.0 203.8,861.5 212.0,866.5 220.1,870.1 228.2,874.4 236.4,879.3 244.5,885.0 252.6,889.1 260.7,894.3 268.9,898.4 277.0,900.3 285.1,902.5 293.3,906.7 301.4,905.4 309.5,904.9 317.6,904.0 325.8,905.2 333.9,904.8 342.0,906.1 350.1,903.2 358.3,899.9 366.4,897.0 374.5,895.8 382.7,893.4 390.8,891.8 398.9,888.8 407.0,885.5 415.2,883.4 423.3,881.7 431.4,881.6 439.6,877.6 447.7,876.2 455.8,873.2 463.9,870.4 472.1,867.1 480.2,865.4 488.3,863.6 496.4,862.4 504.6,862.7 512.7,862.5 520.8,865.4 529.0,868.6 537.1,870.2 545.2,868.0 553.3,875.9 561.5,881.6 569.6,884.2 577.7,885.8 585.9,890.1 594.0,898.3 602.1,904.4 610.2,907.9 618.4,911.0 626.5,913.4 634.6,914.7 642.8,919.1 650.9,924.5 659.0,926.3 667.1,927.8 675.3,927.5 683.4,930.4 691.5,930.6 699.6,931.1 707.8,931.1 715.9,931.3 724.0,928.8 732.2,931.8 740.3,933.3 748.4,935.8 756.5,936.1 764.7,935.2 772.8,934.3 780.9,932.7 789.1,932.2 797.2,930.1 805.3,926.6 813.4,921.6 821.6,917.1 829.7,911.3 837.8,903.6 845.9,896.5 854.1,890.2 862.2,886.8 870.3,884.8 878.5,879.4 886.6,873.1 894.7,870.3 902.8,867.3 911.0,866.6 919.1,864.2 927.2,863.3 935.4,865.4 943.5,864.8 951.6,865.4 959.7,865.9 967.9,866.0 976.0,864.4 984.1,860.0 992.3,858.4 1000.4,856.9 1008.5,857.5 1016.6,857.2 1024.8,858.2 1032.9,856.8 1041.0,857.2 1049.1,856.9 1057.3,857.2 1065.4,854.6 1073.5,853.5 1081.7,848.2 1089.8,844.8 1097.9,843.5 1106.0,841.6 1114.2,841.5 1122.3,843.8 1130.4,846.9 1138.6,849.0 1146.7,850.6 1154.8,855.5 1162.9,857.5 1171.1,861.0 1179.2,864.6 1187.3,869.6 1195.4,872.7 1203.6,874.9 1211.7,876.9 1219.8,879.5 1228.0,881.9 1236.1,883.2 1244.2,885.1 1252.3,885.9 1260.5,886.9 1268.6,886.8 1276.7,892.5 1284.9,900.7 1293.0,904.1 1301.1,910.3 1309.2,914.0 1317.4,917.3 1325.5,917.6 1333.6,915.7 1341.8,914.6 1349.9,912.9 1358.0,910.4 1366.1,913.5 1374.3,915.8 1382.4,915.8 1390.5,914.7 1398.6,913.8 1406.8,913.2 1414.9,907.5 1423.0,905.1 1431.2,903.2 1439.3,902.5 1447.4,902.1 1455.5,900.8 1463.7,898.9 1471.8,892.0 1479.9,883.2 1488.1,879.2 1496.2,872.2 1504.3,868.6 1512.4,866.6 1520.6,862.9 1528.7,859.5 1536.8,855.9 1544.9,853.4 1553.1,853.4 1561.2,854.5 1569.3,854.4 1577.5,854.5 1585.6,854.2 1593.7,856.0 1601.8,859.0 1610.0,863.2 1618.1,861.0 1626.2,860.2 1634.4,860.1 1642.5,860.7 1650.6,859.9 1658.7,856.4 1666.9,853.9 1675.0,855.2 1683.1,856.8 1691.3,857.4 1699.4,858.1 1707.5,859.1 1715.6,861.0 1723.8,860.5 1731.9,859.2 1740.0,857.1 1748.1,855.2 1756.3,850.3 1764.4,847.8 1772.5,844.2 1780.7,842.8 1788.8,843.7 1796.9,843.4 1805.0,841.4 1813.2,841.3 1821.3,844.7 1829.4,849.3 1837.6,852.2 1845.7,852.1" fill="none" stroke="#2196F3" stroke-width="2.2" shape-rendering="geometricPrecision"/><polyline points="0.6,921.1 8.8,919.7 16.9,917.4 25.0,914.6 33.2,911.1 41.3,906.7 49.4,902.6 57.5,898.2 65.7,893.6 73.8,889.0 81.9,884.3 90.1,879.9 98.2,876.0 106.3,872.2 114.4,868.1 122.6,863.6 130.7,858.9 138.8,854.3 146.9,850.9 155.1,848.7 163.2,847.7 171.3,847.9 179.5,848.6 187.6,849.8 195.7,851.4 203.8,853.4 212.0,856.1 220.1,858.9 228.2,862.0 236.4,865.4 244.5,869.4 252.6,873.3 260.7,877.5 268.9,881.7 277.0,885.4 285.1,888.8 293.3,892.4 301.4,895.0 309.5,897.0 317.6,898.4 325.8,899.8 333.9,900.8 342.0,901.8 350.1,902.1 358.3,901.7 366.4,900.7 374.5,899.8 382.7,898.5 390.8,897.1 398.9,895.5 407.0,893.5 415.2,891.5 423.3,889.5 431.4,887.9 439.6,885.9 447.7,883.9 455.8,881.8 463.9,879.5 472.1,877.0 480.2,874.7 488.3,872.5 496.4,870.5 504.6,868.9 512.7,867.6 520.8,867.2 529.0,867.5 537.1,868.0 545.2,868.0 553.3,869.6 561.5,872.0 569.6,874.4 577.7,876.7 585.9,879.4 594.0,883.2 602.1,887.4 610.2,891.5 618.4,895.4 626.5,899.0 634.6,902.2 642.8,905.6 650.9,909.3 659.0,912.7 667.1,915.7 675.3,918.1 683.4,920.5 691.5,922.6 699.6,924.3 707.8,925.6 715.9,926.8 724.0,927.2 732.2,928.1 740.3,929.1 748.4,930.5 756.5,931.6 764.7,932.3 772.8,932.7 780.9,932.7 789.1,932.6 797.2,932.1 805.3,931.0 813.4,929.1 821.6,926.7 829.7,923.6 837.8,919.6 845.9,915.0 854.1,910.0 862.2,905.4 870.3,901.3 878.5,896.9 886.6,892.1 894.7,887.8 902.8,883.7 911.0,880.3 919.1,877.0 927.2,874.3 935.4,872.5 943.5,871.0 951.6,869.9 959.7,869.1 967.9,868.4 976.0,867.6 984.1,866.1 992.3,864.6 1000.4,863.0 1008.5,861.9 1016.6,861.0 1024.8,860.4 1032.9,859.7 1041.0,859.2 1049.1,858.7 1057.3,858.4 1065.4,857.7 1073.5,856.8 1081.7,855.1 1089.8,853.0 1097.9,851.1 1106.0,849.2 1114.2,847.7 1122.3,846.9 1130.4,846.9 1138.6,847.3 1146.7,848.0 1154.8,849.5 1162.9,851.1 1171.1,853.1 1179.2,855.4 1187.3,858.2 1195.4,861.1 1203.6,863.9 1211.7,866.5 1219.8,869.1 1228.0,871.7 1236.1,874.0 1244.2,876.2 1252.3,878.1 1260.5,879.9 1268.6,881.3 1276.7,883.5 1284.9,886.9 1293.0,890.4 1301.1,894.4 1309.2,898.3 1317.4,902.1 1325.5,905.2 1333.6,907.3 1341.8,908.8 1349.9,909.6 1358.0,909.8 1366.1,910.5 1374.3,911.6 1382.4,912.4 1390.5,912.9 1398.6,913.1 1406.8,913.1 1414.9,912.0 1423.0,910.6 1431.2,909.1 1439.3,907.8 1447.4,906.7 1455.5,905.5 1463.7,904.2 1471.8,901.7 1479.9,898.0 1488.1,894.3 1496.2,889.9 1504.3,885.6 1512.4,881.8 1520.6,878.0 1528.7,874.3 1536.8,870.6 1544.9,867.2 1553.1,864.4 1561.2,862.4 1569.3,860.8 1577.5,859.6 1585.6,858.5 1593.7,858.0 1601.8,858.2 1610.0,859.2 1618.1,859.6 1626.2,859.7 1634.4,859.8 1642.5,860.0 1650.6,859.9 1658.7,859.2 1666.9,858.2 1675.0,857.6 1683.1,857.4 1691.3,857.4 1699.4,857.6 1707.5,857.9 1715.6,858.5 1723.8,858.9 1731.9,859.0 1740.0,858.6 1748.1,857.9 1756.3,856.4 1764.4,854.7 1772.5,852.6 1780.7,850.6 1788.8,849.2 1796.9,848.1 1805.0,846.7 1813.2,845.6 1821.3,845.5 1829.4,846.2 1837.6,847.4 1845.7,848.4" fill="none" stroke="#FF6D00" stroke-width="2.2" shape-rendering="geometricPrecision"/></g></svg>
<text x="1964.00" y="45.85" font-family="Liberation Sans, sans-serif" font-size="24.23" font-weight="400" fill="#131722" textLength="96.57" lengthAdjust="spacingAndGlyphs">1.17500</text>
<text x="1964.00" y="154.52" font-family="Liberation Sans, sans-serif" font-size="24.23" font-weight="400" fill="#131722" textLength="96.57" lengthAdjust="spacingAndGlyphs">1.17000</text>
<text x="1964.00" y="263.18" font-family="Liberation Sans, sans-serif" font-size="24.23" font-weight="400" fill="#131722" textLength="96.57" lengthAdjust="spacingAndGlyphs">1.16500</text>
<text x="1964.00" y="370.50" font-family="Liberation Sans, sans-serif" font-size="24.23" font-weight="400" fill="#131722" textLength="96.57" lengthAdjust="spacingAndGlyphs">1.16000</text>
<text x="1964.00" y="697.85" font-family="Liberation Sans, sans-serif" font-size="24.23" font-weight="400" fill="#131722" textLength="96.57" lengthAdjust="spacingAndGlyphs">1.14500</text>
<path d="M1947 63.0 h119.5 a4 4 0 0 1 4 4 v26.0 a4 4 0 0 1 -4 4 h-119.5 z" fill="#F23645" shape-rendering="geometricPrecision"/>
<text x="1963.99" y="88.45" font-family="Liberation Sans, sans-serif" font-size="24.23" font-weight="400" fill="#fff" textLength="96.92" lengthAdjust="spacingAndGlyphs">1.17302</text>
<path d="M1947 163.2 h119.5 a4 4 0 0 1 4 4 v26.0 a4 4 0 0 1 -4 4 h-119.5 z" fill="#F23645" shape-rendering="geometricPrecision"/>
<text x="1963.99" y="188.65" font-family="Liberation Sans, sans-serif" font-size="24.23" font-weight="400" fill="#fff" textLength="96.64" lengthAdjust="spacingAndGlyphs">1.16805</text>
<path d="M1947 198.2 h119.5 a4 4 0 0 1 4 4 v26.0 a4 4 0 0 1 -4 4 h-119.5 z" fill="#089981" shape-rendering="geometricPrecision"/>
<text x="1964.00" y="223.65" font-family="Liberation Sans, sans-serif" font-size="24.23" font-weight="400" fill="#fff" textLength="96.57" lengthAdjust="spacingAndGlyphs">1.16680</text>
<path d="M1947 363.9 h119.5 a4 4 0 0 1 4 4 v26.0 a4 4 0 0 1 -4 4 h-119.5 z" fill="#089981" shape-rendering="geometricPrecision"/>
<text x="1963.99" y="389.35" font-family="Liberation Sans, sans-serif" font-size="24.23" font-weight="400" fill="#fff" textLength="96.92" lengthAdjust="spacingAndGlyphs">1.15917</text>
<path d="M1947 454.0 h119.5 a4 4 0 0 1 4 4 v26.0 a4 4 0 0 1 -4 4 h-119.5 z" fill="#089981" shape-rendering="geometricPrecision"/>
<text x="1963.99" y="479.45" font-family="Liberation Sans, sans-serif" font-size="24.23" font-weight="400" fill="#fff" textLength="96.71" lengthAdjust="spacingAndGlyphs">1.15503</text>
<path d="M1947 558.0 h119.5 a4 4 0 0 1 4 4 v26.0 a4 4 0 0 1 -4 4 h-119.5 z" fill="#089981" shape-rendering="geometricPrecision"/>
<text x="1964.00" y="583.45" font-family="Liberation Sans, sans-serif" font-size="24.23" font-weight="400" fill="#fff" textLength="96.29" lengthAdjust="spacingAndGlyphs">1.15024</text>
<path d="M1947 639.2 h119.5 a4 4 0 0 1 4 4 v26.0 a4 4 0 0 1 -4 4 h-119.5 z" fill="#089981" shape-rendering="geometricPrecision"/>
<text x="1964.00" y="664.65" font-family="Liberation Sans, sans-serif" font-size="24.23" font-weight="400" fill="#fff" textLength="96.57" lengthAdjust="spacingAndGlyphs">1.14650</text>
<path d="M1947 726.0 h89.6 a4 4 0 0 1 4 4 v26.0 a4 4 0 0 1 -4 4 h-89.6 z" fill="#9C4FC6" shape-rendering="geometricPrecision"/>
<text x="1964.70" y="751.45" font-family="Liberation Sans, sans-serif" font-size="24.23" font-weight="400" fill="#fff" textLength="65.03" lengthAdjust="spacingAndGlyphs">60.61</text>
<text x="1963.94" y="777.90" font-family="Liberation Sans, sans-serif" font-size="23.94" font-weight="400" fill="#131722" textLength="66.05" lengthAdjust="spacingAndGlyphs">50.00</text>
<rect x="1947" y="832.5" width="122" height="3" fill="#FF6D00"/>
<path d="M1947 834.2 h119.6 a4 4 0 0 1 4 4 v26.0 a4 4 0 0 1 -4 4 h-119.6 z" fill="#2196F3" shape-rendering="geometricPrecision"/>
<text x="1964.95" y="859.65" font-family="Liberation Sans, sans-serif" font-size="24.23" font-weight="400" fill="#fff" textLength="95.17" lengthAdjust="spacingAndGlyphs">0.00155</text>
<path d="M1947 868.0 h135.7 a4 4 0 0 1 4 4 v26.0 a4 4 0 0 1 -4 4 h-135.7 z" fill="#FCCBCD" shape-rendering="geometricPrecision"/>
<text x="1964.68" y="893.45" font-family="Liberation Sans, sans-serif" font-size="24.23" font-weight="400" fill="#131722" textLength="110.74" lengthAdjust="spacingAndGlyphs">−0.00020</text>
<text x="16.97" y="41.00" font-family="Liberation Sans, sans-serif" font-size="24.73" font-weight="400" fill="#131722" textLength="208.99" lengthAdjust="spacingAndGlyphs">EUR/USD Spot, 4h</text>
<text x="238.10" y="41.00" font-family="Liberation Sans, sans-serif" font-size="24.73" font-weight="400" fill="#131722" textLength="19.60" lengthAdjust="spacingAndGlyphs">O</text>
<text x="258.19" y="41.00" font-family="Liberation Sans, sans-serif" font-size="24.37" font-weight="400" fill="#089981" textLength="87.38" lengthAdjust="spacingAndGlyphs">1.16490</text>
<text x="359.02" y="41.00" font-family="Liberation Sans, sans-serif" font-size="24.73" font-weight="400" fill="#131722" textLength="19.95" lengthAdjust="spacingAndGlyphs">H</text>
<text x="377.30" y="41.00" font-family="Liberation Sans, sans-serif" font-size="24.37" font-weight="400" fill="#089981" textLength="81.89" lengthAdjust="spacingAndGlyphs">1.16717</text>
<text x="473.43" y="41.00" font-family="Liberation Sans, sans-serif" font-size="24.73" font-weight="400" fill="#131722" textLength="12.64" lengthAdjust="spacingAndGlyphs">L</text>
<text x="485.81" y="41.00" font-family="Liberation Sans, sans-serif" font-size="24.37" font-weight="400" fill="#089981" textLength="90.88" lengthAdjust="spacingAndGlyphs">1.16489</text>
<text x="589.62" y="41.00" font-family="Liberation Sans, sans-serif" font-size="24.73" font-weight="400" fill="#131722" textLength="17.06" lengthAdjust="spacingAndGlyphs">C</text>
<text x="606.34" y="41.00" font-family="Liberation Sans, sans-serif" font-size="24.37" font-weight="400" fill="#089981" textLength="89.44" lengthAdjust="spacingAndGlyphs">1.16680</text>
<text x="709.60" y="41.00" font-family="Liberation Sans, sans-serif" font-size="24.37" font-weight="400" fill="#089981" textLength="216.21" lengthAdjust="spacingAndGlyphs">+0.00189 (+0.16%)</text>
<text x="16.34" y="747.00" font-family="Liberation Sans, sans-serif" font-size="24.15" font-weight="400" fill="#131722" textLength="88.51" lengthAdjust="spacingAndGlyphs">RSI (14)</text>
<text x="119.57" y="747.00" font-family="Liberation Sans, sans-serif" font-size="23.80" font-weight="400" fill="#9C4FC6" textLength="61.50" lengthAdjust="spacingAndGlyphs">60.61</text>
<text x="16.24" y="872.60" font-family="Liberation Sans, sans-serif" font-size="23.85" font-weight="400" fill="#131722" textLength="266.48" lengthAdjust="spacingAndGlyphs">MACD (12, 26, close, 9)</text>
<text x="297.59" y="872.50" font-family="Liberation Sans, sans-serif" font-size="23.51" font-weight="400" fill="#FCCBCD" textLength="109.62" lengthAdjust="spacingAndGlyphs">−0.00020</text>
<text x="421.60" y="872.50" font-family="Liberation Sans, sans-serif" font-size="23.51" font-weight="400" fill="#2196F3" textLength="90.46" lengthAdjust="spacingAndGlyphs">0.00155</text>
<text x="526.31" y="872.50" font-family="Liberation Sans, sans-serif" font-size="23.51" font-weight="400" fill="#FF6D00" textLength="89.75" lengthAdjust="spacingAndGlyphs">0.00175</text>
<text x="164.67" y="959.20" font-family="Liberation Sans, sans-serif" font-size="24.80" font-weight="400" fill="#131722" textLength="30.11" lengthAdjust="spacingAndGlyphs">19</text>
<text x="359.78" y="959.20" font-family="Liberation Sans, sans-serif" font-size="24.80" font-weight="400" fill="#131722" textLength="29.30" lengthAdjust="spacingAndGlyphs">24</text>
<text x="643.75" y="959.20" font-family="Liberation Sans, sans-serif" font-size="25.16" font-weight="700" fill="#131722" textLength="46.26" lengthAdjust="spacingAndGlyphs">Nov</text>
<text x="855.24" y="959.20" font-family="Liberation Sans, sans-serif" font-size="24.80" font-weight="400" fill="#131722" textLength="14.06" lengthAdjust="spacingAndGlyphs">7</text>
<text x="1041.73" y="959.20" font-family="Liberation Sans, sans-serif" font-size="24.80" font-weight="400" fill="#131722" textLength="30.26" lengthAdjust="spacingAndGlyphs">13</text>
<text x="1236.80" y="959.20" font-family="Liberation Sans, sans-serif" font-size="24.80" font-weight="400" fill="#131722" textLength="30.34" lengthAdjust="spacingAndGlyphs">19</text>
<text x="1432.59" y="959.20" font-family="Liberation Sans, sans-serif" font-size="24.80" font-weight="400" fill="#131722" textLength="29.44" lengthAdjust="spacingAndGlyphs">25</text>
<text x="1626.25" y="959.20" font-family="Liberation Sans, sans-serif" font-size="25.16" font-weight="700" fill="#131722" textLength="47.51" lengthAdjust="spacingAndGlyphs">Dec</text>
<text x="1829.91" y="959.20" font-family="Liberation Sans, sans-serif" font-size="24.80" font-weight="400" fill="#131722" textLength="15.22" lengthAdjust="spacingAndGlyphs">5</text>
<rect x="1" y="1" width="2094" height="976" fill="none" stroke="#EEF0F4" stroke-width="2"/>
</svg></body></html>
